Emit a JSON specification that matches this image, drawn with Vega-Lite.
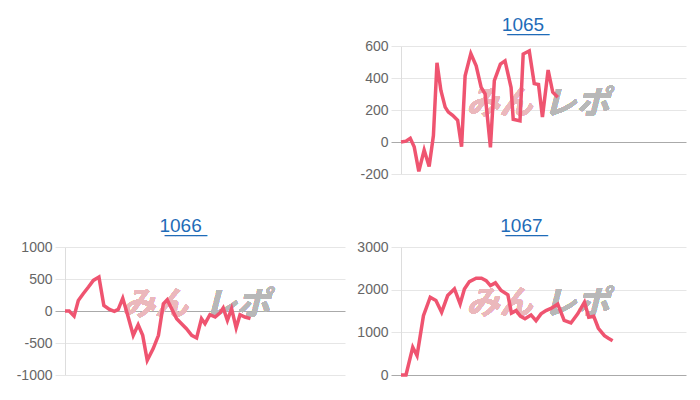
{
  "$schema": "https://vega.github.io/schema/vega-lite/v6.json",
  "padding": {"left": 16, "top": 16, "right": 10, "bottom": 5},
  "background": "white",
  "config": {
    "view": {"stroke": null},
    "font": "Liberation Sans",
    "title": {"fontSize": 19, "fontWeight": "normal", "color": "#1f6cb8", "font": "Liberation Sans", "anchor": "middle", "frame": "bounds", "offset": 4},
    "axisY": {
      "labelFontSize": 14, "labelColor": "#666666", "labelFont": "Liberation Sans", "labelPadding": 3,
      "labelExpr": "'' + datum.value",
      "tickSize": 10,
      "gridColor": {"condition": {"test": "datum.value === 0", "value": "#aaaaaa"}, "value": "#e6e6e6"},
      "tickColor": {"condition": {"test": "datum.value === 0", "value": "#aaaaaa"}, "value": "#e6e6e6"},
      "domainColor": "#dddddd",
      "title": null
    }
  },
  "datasets": {
    "d1065": [
      {"g": 0, "v": 0}, {"g": 140, "v": 5}, {"g": 260, "v": 23}, {"g": 370, "v": -30}, {"g": 500, "v": -184},
      {"g": 650, "v": -50}, {"g": 790, "v": -153}, {"g": 910, "v": 40}, {"g": 1010, "v": 495}, {"g": 1120, "v": 322},
      {"g": 1240, "v": 218}, {"g": 1330, "v": 187}, {"g": 1450, "v": 167}, {"g": 1590, "v": 136}, {"g": 1700, "v": -29},
      {"g": 1800, "v": 414}, {"g": 1960, "v": 552}, {"g": 2110, "v": 476}, {"g": 2250, "v": 342}, {"g": 2360, "v": 301},
      {"g": 2510, "v": -33}, {"g": 2620, "v": 384}, {"g": 2790, "v": 487}, {"g": 2920, "v": 507}, {"g": 3090, "v": 340},
      {"g": 3150, "v": 142}, {"g": 3340, "v": 132}, {"g": 3430, "v": 550}, {"g": 3600, "v": 569}, {"g": 3740, "v": 365},
      {"g": 3860, "v": 359}, {"g": 3970, "v": 156}, {"g": 4130, "v": 450}, {"g": 4260, "v": 311}, {"g": 4400, "v": 280}
    ],
    "d1066": [
      {"g": 0, "v": 0}, {"g": 120, "v": 0}, {"g": 260, "v": -80}, {"g": 380, "v": 165}, {"g": 520, "v": 270},
      {"g": 670, "v": 375}, {"g": 810, "v": 478}, {"g": 970, "v": 530}, {"g": 1110, "v": 87}, {"g": 1270, "v": 25},
      {"g": 1410, "v": -6}, {"g": 1520, "v": 25}, {"g": 1650, "v": 200}, {"g": 1780, "v": -42}, {"g": 1950, "v": -380},
      {"g": 2090, "v": -214}, {"g": 2220, "v": -380}, {"g": 2350, "v": -770}, {"g": 2520, "v": -588}, {"g": 2670, "v": -380},
      {"g": 2810, "v": 114}, {"g": 2920, "v": 175}, {"g": 3190, "v": -120}, {"g": 3330, "v": -198}, {"g": 3470, "v": -276},
      {"g": 3620, "v": -380}, {"g": 3760, "v": -421}, {"g": 3900, "v": -120}, {"g": 4000, "v": -198}, {"g": 4140, "v": -58},
      {"g": 4290, "v": -94}, {"g": 4430, "v": -27}, {"g": 4520, "v": 47}, {"g": 4640, "v": -147}, {"g": 4760, "v": 36},
      {"g": 4890, "v": -265}, {"g": 5000, "v": -58}, {"g": 5140, "v": -94}, {"g": 5300, "v": -120}
    ],
    "d1067": [
      {"g": 0, "v": 0}, {"g": 140, "v": 0}, {"g": 330, "v": 650}, {"g": 450, "v": 453}, {"g": 630, "v": 1392},
      {"g": 820, "v": 1823}, {"g": 980, "v": 1745}, {"g": 1140, "v": 1471}, {"g": 1310, "v": 1862}, {"g": 1500, "v": 2018},
      {"g": 1660, "v": 1666}, {"g": 1780, "v": 2018}, {"g": 1920, "v": 2190}, {"g": 2110, "v": 2269}, {"g": 2260, "v": 2269},
      {"g": 2390, "v": 2213}, {"g": 2510, "v": 2096}, {"g": 2650, "v": 2159}, {"g": 2810, "v": 1979}, {"g": 3000, "v": 1878},
      {"g": 3100, "v": 1450}, {"g": 3230, "v": 1509}, {"g": 3350, "v": 1380}, {"g": 3480, "v": 1320}, {"g": 3650, "v": 1408},
      {"g": 3790, "v": 1274}, {"g": 3930, "v": 1432}, {"g": 4070, "v": 1509}, {"g": 4210, "v": 1560}, {"g": 4400, "v": 1660},
      {"g": 4580, "v": 1280}, {"g": 4770, "v": 1220}, {"g": 4960, "v": 1432}, {"g": 5150, "v": 1706}, {"g": 5270, "v": 1354},
      {"g": 5410, "v": 1377}, {"g": 5540, "v": 1096}, {"g": 5710, "v": 922}, {"g": 5820, "v": 861}, {"g": 5940, "v": 805}
    ]
  },
  "columns": 2,
  "spacing": {"row": 36, "column": 11},
  "concat": [
    {
      "width": 280, "height": 128,
      "data": {"values": []},
      "mark": "point",
      "encoding": {}
    },
    {
      "title": "1\u03320\u03326\u03325\u0332",
      "width": 285, "height": 128,
      "data": {"name": "d1065"},
      "encoding": {
        "x": {"field": "g", "type": "quantitative", "scale": {"domain": [0, 8000], "nice": false}, "axis": null},
        "y": {"field": "v", "type": "quantitative", "scale": {"domain": [-200, 600], "nice": false}, "axis": {"values": [-200, 0, 200, 400, 600]}}
      },
      "layer": [
        {"mark": {"type": "text", "text": "みん", "font": "Noto Sans CJK JP", "fontSize": 33, "fontWeight": "bold", "fontStyle": "italic", "color": "#ebb8bc", "dx": -44},
         "encoding": {"x": {"datum": 4000}, "y": {"datum": 240}}},
        {"mark": {"type": "text", "text": "レポ", "font": "Noto Sans CJK JP", "fontSize": 33, "fontWeight": "bold", "fontStyle": "italic", "color": "#b8b8b8", "dx": 33},
         "encoding": {"x": {"datum": 4000}, "y": {"datum": 240}}},
        {"mark": {"type": "line", "color": "#ef5470", "strokeWidth": 3.5}}
      ]
    },
    {
      "title": "1\u03320\u03326\u03326\u0332",
      "width": 280, "height": 128,
      "data": {"name": "d1066"},
      "encoding": {
        "x": {"field": "g", "type": "quantitative", "scale": {"domain": [0, 8000], "nice": false}, "axis": null},
        "y": {"field": "v", "type": "quantitative", "scale": {"domain": [-1000, 1000], "nice": false}, "axis": {"values": [-1000, -500, 0, 500, 1000]}}
      },
      "layer": [
        {"mark": {"type": "text", "text": "みん", "font": "Noto Sans CJK JP", "fontSize": 33, "fontWeight": "bold", "fontStyle": "italic", "color": "#ebb8bc", "dx": -50},
         "encoding": {"x": {"datum": 4000}, "y": {"datum": 100}}},
        {"mark": {"type": "text", "text": "レポ", "font": "Noto Sans CJK JP", "fontSize": 33, "fontWeight": "bold", "fontStyle": "italic", "color": "#b8b8b8", "dx": 32},
         "encoding": {"x": {"datum": 4000}, "y": {"datum": 100}}},
        {"mark": {"type": "line", "color": "#ef5470", "strokeWidth": 3.5}}
      ]
    },
    {
      "title": "1\u03320\u03326\u03327\u0332",
      "width": 285, "height": 128,
      "data": {"name": "d1067"},
      "encoding": {
        "x": {"field": "g", "type": "quantitative", "scale": {"domain": [0, 8000], "nice": false}, "axis": null},
        "y": {"field": "v", "type": "quantitative", "scale": {"domain": [0, 3000], "nice": false}, "axis": {"values": [0, 1000, 2000, 3000]}}
      },
      "layer": [
        {"mark": {"type": "text", "text": "みん", "font": "Noto Sans CJK JP", "fontSize": 33, "fontWeight": "bold", "fontStyle": "italic", "color": "#ebb8bc", "dx": -44},
         "encoding": {"x": {"datum": 4000}, "y": {"datum": 1670}}},
        {"mark": {"type": "text", "text": "レポ", "font": "Noto Sans CJK JP", "fontSize": 33, "fontWeight": "bold", "fontStyle": "italic", "color": "#b8b8b8", "dx": 33},
         "encoding": {"x": {"datum": 4000}, "y": {"datum": 1670}}},
        {"mark": {"type": "line", "color": "#ef5470", "strokeWidth": 3.5}}
      ]
    }
  ]
}
